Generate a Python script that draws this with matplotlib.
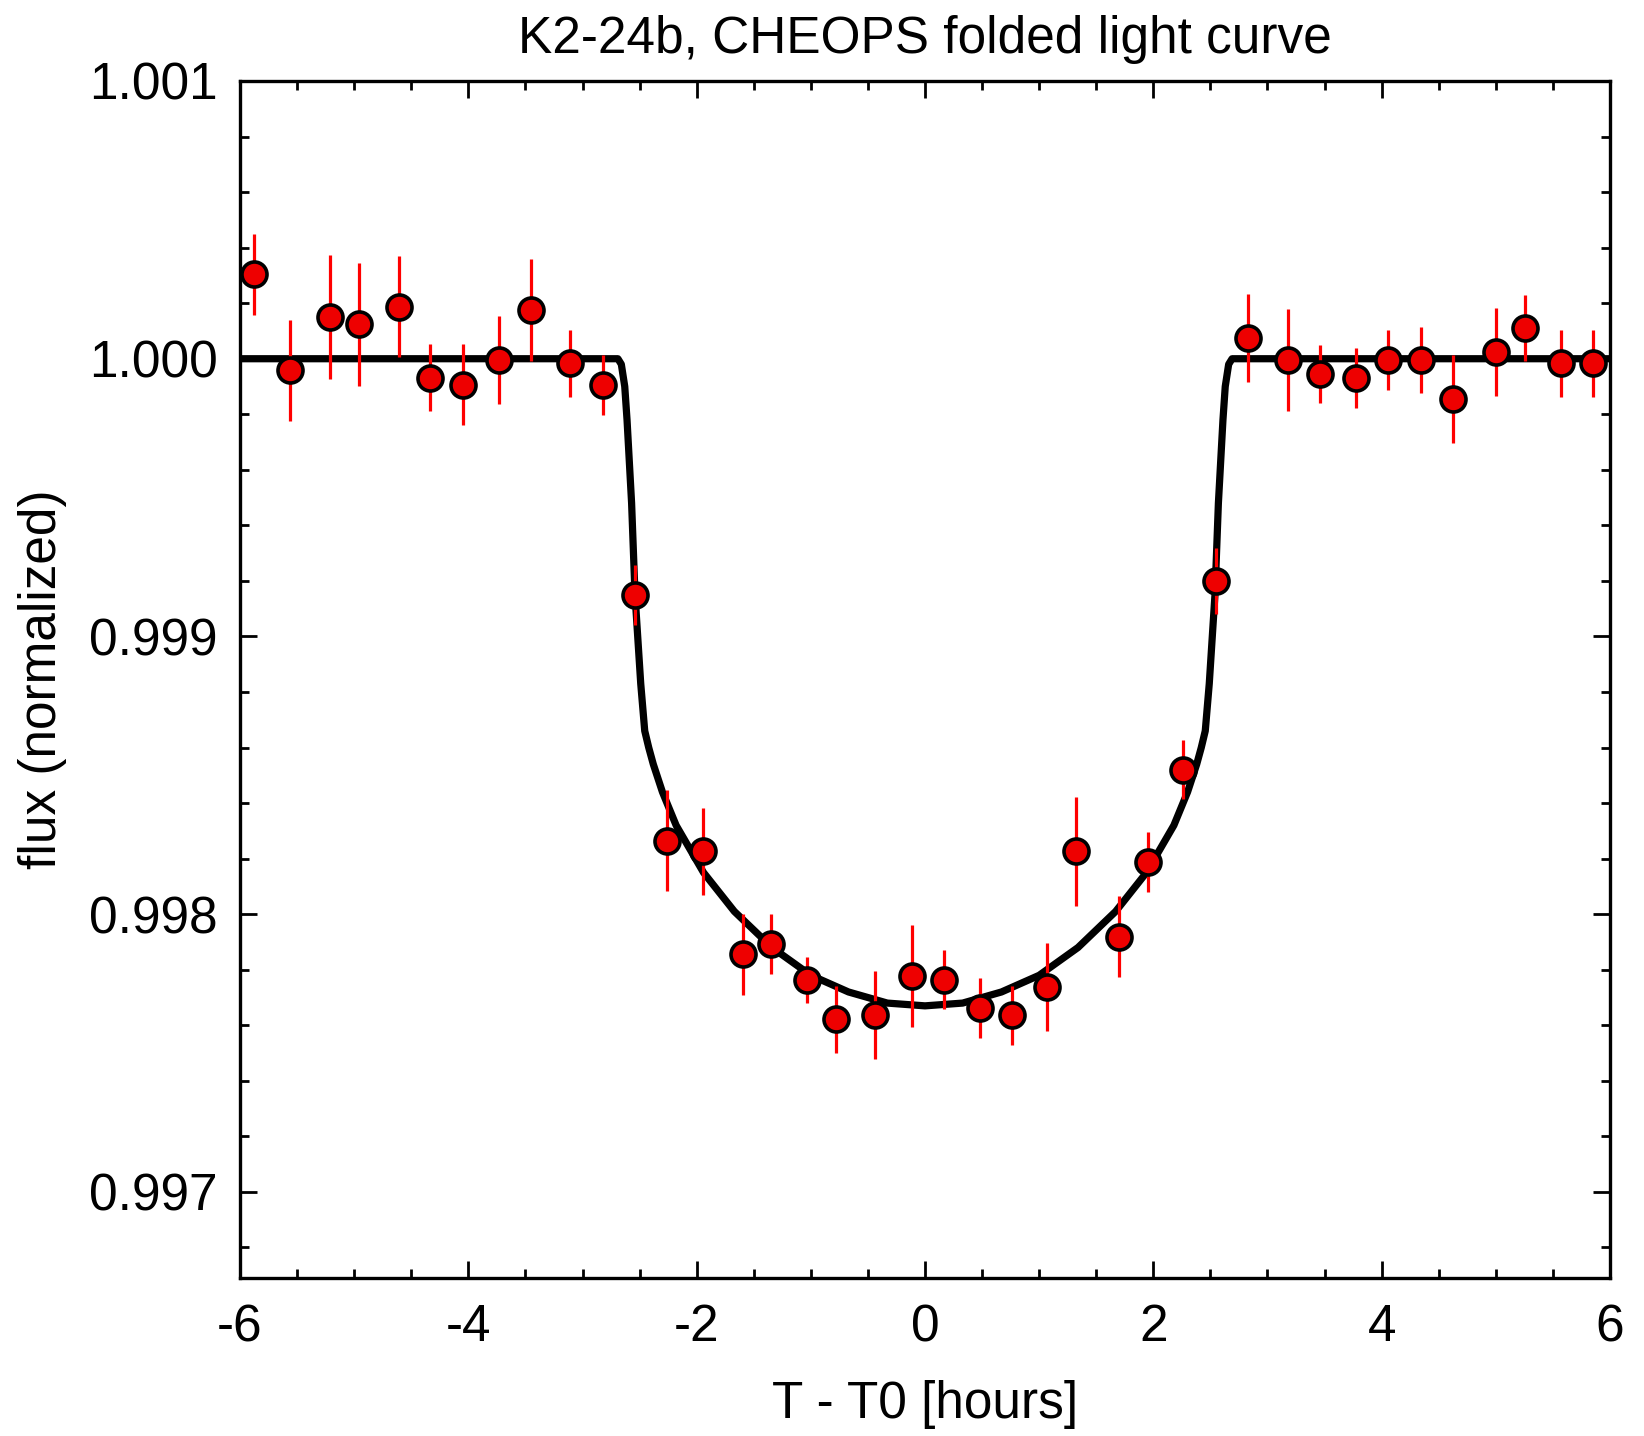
import matplotlib
matplotlib.use('Agg')
import matplotlib.pyplot as plt
from matplotlib.ticker import MultipleLocator, FormatStrFormatter

# binned CHEOPS points (hours from mid-transit, normalized flux, 1-sigma)
time = [-5.875, -5.56, -5.215, -4.96, -4.61, -4.334, -4.047, -3.735, -3.452, -3.108,
        -2.821, -2.541, -2.258, -1.943, -1.598, -1.347, -1.032, -0.78, -0.435, -0.117,
        0.164, 0.48, 0.762, 1.073, 1.327, 1.703, 1.954, 2.263, 2.549, 2.833,
        3.18, 3.463, 3.778, 4.058, 4.342, 4.624, 5.0, 5.255, 5.567, 5.85]
flux = [1.000304, 0.999958, 1.00015, 1.000124, 1.000188, 0.999932, 0.999906, 0.999996, 1.000176, 0.999983,
        0.999906, 0.99915, 0.998265, 0.998226, 0.997855, 0.997893, 0.997764, 0.997622, 0.997636, 0.997777,
        0.997764, 0.997662, 0.997636, 0.997738, 0.998226, 0.997919, 0.998188, 0.998521, 0.9992, 1.000074,
        0.999996, 0.999945, 0.999931, 0.999996, 0.999996, 0.999855, 1.000023, 1.000112, 0.999983, 0.999983]
flux_err = [0.000145, 0.000183, 0.000222, 0.000222, 0.000183, 0.00012, 0.000146, 0.000158, 0.000183, 0.000119,
            0.000107, 0.000107, 0.000183, 0.000158, 0.000146, 0.000107, 0.000082, 0.00012, 0.000158, 0.000184,
            0.000107, 0.000107, 0.000106, 0.000158, 0.000196, 0.000145, 0.000108, 0.000107, 0.00012, 0.000158,
            0.000183, 0.000106, 0.000107, 0.000107, 0.000119, 0.000157, 0.000158, 0.000119, 0.00012, 0.00012]

# transit model
model_t = [-6.0, -2.69, -2.66, -2.63, -2.61, -2.57, -2.54, -2.49, -2.455, -2.42,
           -2.38, -2.30, -2.18, -1.94, -1.67, -1.34, -1.00, -0.67, -0.33, 0.0,
           0.33, 0.67, 1.00, 1.34, 1.67, 1.94, 2.18, 2.30, 2.38, 2.42,
           2.455, 2.49, 2.54, 2.57, 2.61, 2.63, 2.66, 2.69, 6.0]
model_f = [1.0, 1.0, 0.99998, 0.99990, 0.99978, 0.99948, 0.99915, 0.99883, 0.99866, 0.99860,
           0.99854, 0.99844, 0.99832, 0.99815, 0.99801, 0.99788, 0.99778, 0.99772, 0.99768, 0.99767,
           0.99768, 0.99772, 0.99778, 0.99788, 0.99801, 0.99815, 0.99832, 0.99844, 0.99854, 0.99860,
           0.99866, 0.99883, 0.99915, 0.99948, 0.99978, 0.99990, 0.99998, 1.0, 1.0]

plt.rcParams['font.family'] = ['Liberation Sans', 'DejaVu Sans']
plt.rcParams['axes.unicode_minus'] = False

fig = plt.figure(figsize=(16.44, 14.36), dpi=100)
ax = fig.add_axes([0.146, 0.110, 0.8333, 0.8336])

ax.plot(model_t, model_f, color='black', lw=5.2, zorder=2)
ax.errorbar(time, flux, yerr=flux_err, fmt='none', ecolor='red', elinewidth=2.3, capsize=0, zorder=3)
ax.plot(time, flux, 'o', ms=18, mfc='#ee0000', mec='black', mew=2.6, zorder=4)

ax.set_xlim(-6, 6)
ax.set_ylim(0.99669, 1.001)

ax.xaxis.set_major_locator(MultipleLocator(2))
ax.xaxis.set_minor_locator(MultipleLocator(0.5))
ax.yaxis.set_major_locator(MultipleLocator(0.001))
ax.yaxis.set_minor_locator(MultipleLocator(0.0002))
ax.yaxis.set_major_formatter(FormatStrFormatter('%.3f'))

ax.tick_params(which='both', direction='in', top=True, right=True, width=2, labelsize=37)
ax.tick_params(which='major', length=12)
ax.tick_params(which='minor', length=6.5)
ax.tick_params(axis='x', pad=18)
ax.tick_params(axis='y', pad=16)
for s in ax.spines.values():
    s.set_linewidth(2.4)

ax.set_xlabel('T - T0 [hours]', fontsize=37, labelpad=20)
ax.set_ylabel('flux (normalized)', fontsize=37, labelpad=16)
ax.set_title('K2-24b, CHEOPS folded light curve', fontsize=37, pad=20)

fig.savefig('out.png', dpi=100)
